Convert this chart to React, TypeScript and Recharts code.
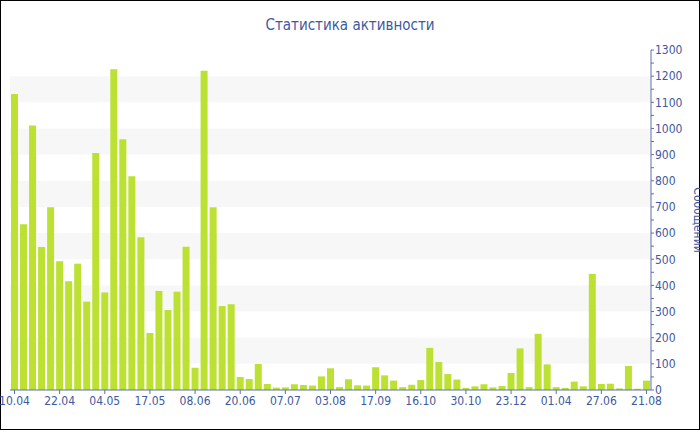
import { Bar, BarChart, ReferenceArea, XAxis, YAxis } from "recharts";

const tickLabels = [
  "10.04", "22.04", "04.05", "17.05", "08.06", "20.06", "07.07", "03.08",
  "17.09", "16.10", "30.10", "23.12", "01.04", "27.06", "21.08",
];

const messages = [
  1132, 634, 1011, 547, 699, 492, 416, 483, 338, 906,
  373, 1226, 959, 817, 584, 218, 379, 306, 376, 548,
  85, 1221, 699, 321, 328, 50, 42, 99, 23, 9,
  10, 22, 19, 17, 52, 83, 11, 41, 18, 17,
  87, 56, 36, 11, 20, 38, 161, 107, 61, 40,
  8, 14, 22, 10, 15, 65, 159, 11, 215, 98,
  11, 8, 32, 14, 444, 23, 24, 6, 92, 5,
  36,
];

const yTicks = Array.from({ length: 27 }, (_, i) => i * 50);
const bands = [
  [100, 200], [300, 400], [500, 600], [700, 800], [900, 1000], [1100, 1200],
];

const data = messages.map((count, i) => ({ i, count }));

const FONT = "'DejaVu Sans Condensed', 'DejaVu Sans', sans-serif";
const TEXT = "#4059a0";
const AXIS = "#5d70ad";

const YTick = ({ x, y, payload }: any) =>
  payload.value % 100 === 0 ? (
    <text x={x} y={y} dy="0.36em" textAnchor="start" fill={TEXT} fontSize={12} fontFamily={FONT}>
      {payload.value}
    </text>
  ) : (
    <g />
  );

export default function App() {
  return (
    <div style={{ position: "absolute", left: 0, top: 0, width: 700, height: 430, boxShadow: "inset 0 0 0 1px #000" }}>
      <div
        style={{
          position: "absolute", left: 0, top: 16, width: 700, textAlign: "center",
          fontFamily: FONT, fontSize: 15, color: TEXT,
        }}
      >
        Статистика активности
      </div>
      <BarChart width={700} height={430} data={data} margin={{ top: 50, right: 0, left: 10, bottom: 10 }} barCategoryGap={1}>
        {bands.map(([y1, y2]) => (
          <ReferenceArea key={y1} y1={y1} y2={y2} fill="#f7f7f7" fillOpacity={1} stroke="none" ifOverflow="visible" />
        ))}
        <XAxis
          dataKey="i"
          interval={4}
          tickFormatter={(i) => tickLabels[i / 5]}
          height={30}
          tickSize={4}
          tickMargin={2}
          stroke={AXIS}
          tick={{ fill: TEXT, fontSize: 12, fontFamily: FONT }}
        />
        <YAxis
          orientation="right"
          width={49}
          domain={[0, 1300]}
          ticks={yTicks}
          interval={0}
          tickSize={3}
          tickMargin={1}
          stroke={AXIS}
          tick={<YTick />}
          label={{
            value: "Сообщений", angle: 90, position: "insideRight", offset: 2,
            textAnchor: "middle", fill: TEXT, fontSize: 12, fontFamily: FONT,
          }}
        />
        <Bar dataKey="count" fill="#bce132" isAnimationActive={false} />
      </BarChart>
    </div>
  );
}
